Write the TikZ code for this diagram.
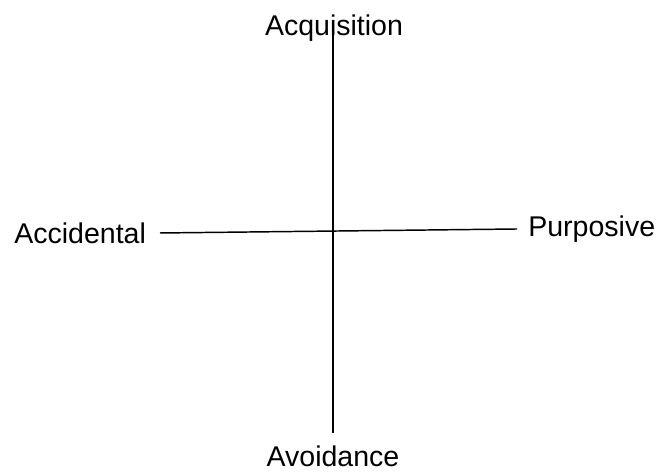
\documentclass[tikz,border=0pt]{standalone}
\usepackage{fontspec}
\setmainfont{Liberation Sans}
\usetikzlibrary{positioning}

\begin{document}
\begin{tikzpicture}[
  x=0.75pt, y=0.75pt,
  lbl/.style={font=\fontsize{21.4}{25}\selectfont, inner sep=0pt},
  axisline/.style={draw=black, line width=1.1pt}
]
\useasboundingbox (0,0) rectangle (657,473);

\node[lbl, anchor=base] (acq) at (334, 437) {Acquisition};
\node[lbl, anchor=base west] (acc) at (14, 229) {Accidental};
\node[lbl, anchor=base west] (pur) at (528, 236) {Purposive};
\node[lbl, anchor=base] (avo) at (333, 6) {Avoidance};

\coordinate (vtop) at (333, 440);
\coordinate (vbot) at (333, 40);
\coordinate (hleft) at (160, 240);
\coordinate (hright) at (517, 244);

\draw[axisline] (vtop) -- (vbot);
\draw[axisline] (hleft) -- (hright);

\end{tikzpicture}
\end{document}
